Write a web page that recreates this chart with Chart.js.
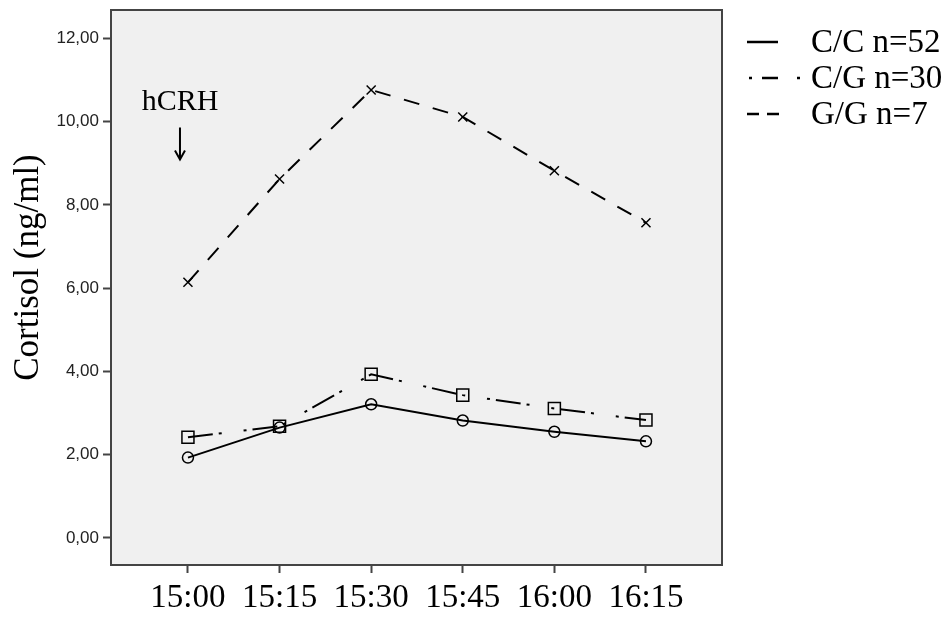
<!DOCTYPE html>
<html>
<head>
<meta charset="utf-8">
<script src="https://cdn.jsdelivr.net/npm/chart.js@4.4.1/dist/chart.umd.min.js"></script>
<style>
html, body { margin: 0; padding: 0; background: #fff; }
#wrap { width: 951px; height: 619px; }
</style>
</head>
<body>
<div id="wrap"><canvas id="cortisolChart" width="951" height="619"></canvas></div>
<script>
// cortisol after hCRH, by genotype
const timeLabels = ["15:00", "15:15", "15:30", "15:45", "16:00", "16:15"];
const ccValues = [1.93, 2.65, 3.21, 2.82, 2.55, 2.32];
const cgValues = [2.42, 2.68, 3.93, 3.43, 3.11, 2.83];
const ggValues = [6.14, 8.62, 10.76, 10.11, 8.82, 7.57];
const yTicks = [0, 2, 4, 6, 8, 10, 12];
const seriesLabels = ["C/C n=52", "C/G n=30", "G/G n=7"];

const serif = "'Liberation Serif', 'Times New Roman', serif";
const pointData = vals => vals.map((v, i) => ({ x: i, y: v }));

const plotFrame = {
    id: "plotFrame",
    beforeDatasetsDraw(chart) {
        const { ctx, chartArea: a } = chart;
        ctx.save();
        ctx.fillStyle = "#f0f0f0";
        ctx.fillRect(a.left, a.top, a.right - a.left, a.bottom - a.top);
        ctx.restore();
    },
    afterDraw(chart) {
        const { ctx, chartArea: a } = chart;
        const xs = chart.scales.x, ys = chart.scales.y;
        ctx.save();

        // frame
        ctx.strokeStyle = "#444";
        ctx.lineWidth = 2;
        ctx.strokeRect(a.left, a.top, a.right - a.left, a.bottom - a.top);

        // y title
        ctx.fillStyle = "#000";
        ctx.font = "35px " + serif;
        ctx.textAlign = "center";
        ctx.textBaseline = "alphabetic";
        ctx.save();
        ctx.translate(38, (a.top + a.bottom) / 2 - 20);
        ctx.rotate(-Math.PI / 2);
        ctx.fillText("Cortisol (ng/ml)", 0, 0);
        ctx.restore();

        // hCRH marker
        const ax = xs.getPixelForValue(-0.087);
        ctx.font = "30px " + serif;
        ctx.fillText("hCRH", ax, ys.getPixelForValue(10.29));
        const top = ys.getPixelForValue(9.86), bot = ys.getPixelForValue(9.09);
        ctx.lineWidth = 2;
        ctx.strokeStyle = "#000";
        ctx.beginPath();
        ctx.moveTo(ax, top);
        ctx.lineTo(ax, bot);
        ctx.moveTo(ax - 5, bot - 9);
        ctx.lineTo(ax, bot);
        ctx.lineTo(ax + 5, bot - 9);
        ctx.stroke();

        // legend
        const legendDash = [[], [3, 10, 16, 19, 3], [12, 8]];
        const legendX = [[747, 778], [749, 800], [747, 779]];
        ctx.font = "33px " + serif;
        ctx.textAlign = "left";
        ctx.textBaseline = "middle";
        chart.data.datasets.forEach((ds, i) => {
            const y = 42 + i * 36;
            ctx.setLineDash(legendDash[i]);
            ctx.lineWidth = 2.5;
            ctx.beginPath();
            ctx.moveTo(legendX[i][0], y);
            ctx.lineTo(legendX[i][1], y);
            ctx.stroke();
            ctx.setLineDash([]);
            ctx.fillText(ds.label, 811, y + 1);
        });
        ctx.restore();
    }
};

const tickGrid = {
    display: true,
    drawOnChartArea: false,
    drawTicks: true,
    tickLength: 8,
    tickColor: "#444",
    tickWidth: 2
};

const baseSeries = {
    borderColor: "#000",
    borderWidth: 2,
    pointBorderColor: "#000",
    pointBackgroundColor: "rgba(0,0,0,0)",
    pointBorderWidth: 1.5,
    tension: 0,
    fill: false
};

new Chart(document.getElementById("cortisolChart"), {
    type: "line",
    data: {
        datasets: [
            { ...baseSeries, label: seriesLabels[0], data: pointData(ccValues),
              pointStyle: "circle", pointRadius: 5.5 },
            { ...baseSeries, label: seriesLabels[1], data: pointData(cgValues),
              borderDash: [25, 6, 3, 22, 3, 6], pointStyle: "rect", pointRadius: 8.5 },
            { ...baseSeries, label: seriesLabels[2], data: pointData(ggValues),
              borderDash: [16, 14], pointStyle: "crossRot", pointRadius: 6.4 }
        ]
    },
    options: {
        responsive: false,
        animation: false,
        layout: { padding: { top: 7, right: 229, left: 0, bottom: 0 } },
        plugins: {
            legend: { display: false },
            tooltip: { enabled: false }
        },
        scales: {
            x: {
                type: "linear",
                min: -0.84,
                max: 5.83,
                afterBuildTicks: s => { s.ticks = timeLabels.map((t, i) => ({ value: i })); },
                afterFit: s => { s.height = 54; s.paddingLeft = 0; s.paddingRight = 0; },
                grid: tickGrid,
                border: { display: false },
                ticks: {
                    autoSkip: false,
                    maxRotation: 0,
                    padding: 6,
                    color: "#000",
                    font: { family: serif, size: 33 },
                    callback: v => timeLabels[v]
                }
            },
            y: {
                min: -0.65,
                max: 12.68,
                afterBuildTicks: s => { s.ticks = yTicks.map(v => ({ value: v })); },
                afterFit: s => { s.width = 111; s.paddingTop = 0; s.paddingBottom = 0; },
                grid: tickGrid,
                border: { display: false },
                ticks: {
                    padding: 4,
                    color: "#222",
                    font: { family: "'Liberation Sans', Arial, sans-serif", size: 17 },
                    callback: v => v.toFixed(2).replace(".", ",")
                }
            }
        }
    },
    plugins: [plotFrame]
});
</script>
</body>
</html>
